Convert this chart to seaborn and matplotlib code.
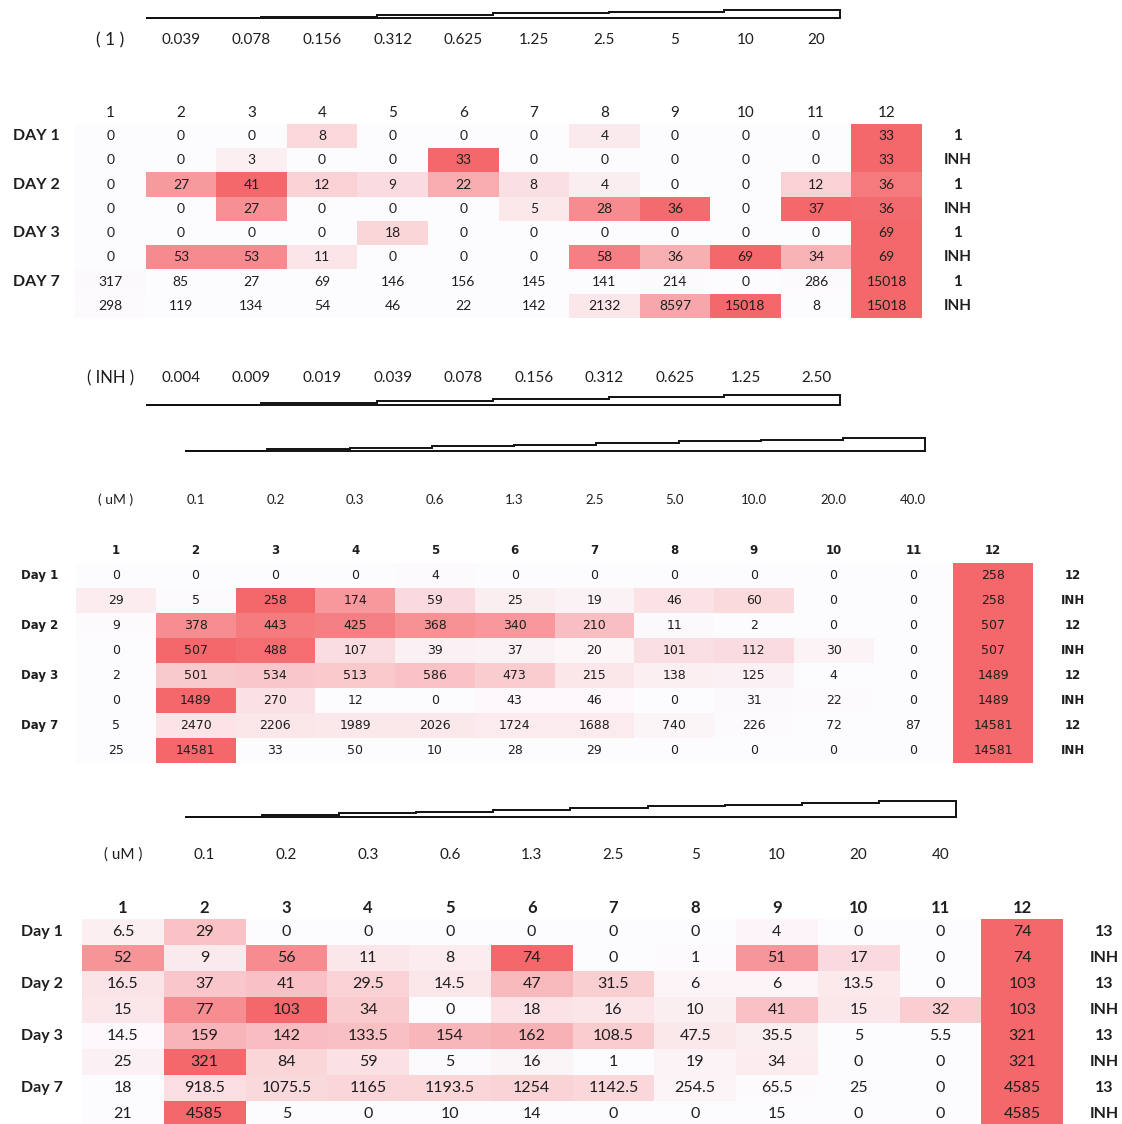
import numpy as np
import seaborn as sns
import matplotlib
matplotlib.use("Agg")
import matplotlib.pyplot as plt
from matplotlib.colors import LinearSegmentedColormap
from matplotlib.patches import Polygon

sns.set_theme(style="white")
plt.rcParams["font.family"] = ["Lato", "DejaVu Sans"]

# ---------------- data ----------------
columns = [str(i) for i in range(1, 13)]

# compound 1 / INH plate
conc_1 = ["0.039", "0.078", "0.156", "0.312", "0.625", "1.25", "2.5", "5", "10", "20"]
conc_inh = ["0.004", "0.009", "0.019", "0.039", "0.078", "0.156", "0.312", "0.625", "1.25", "2.50"]
p1_day1_1 = [0, 0, 0, 8, 0, 0, 0, 4, 0, 0, 0, 33]
p1_day1_inh = [0, 0, 3, 0, 0, 33, 0, 0, 0, 0, 0, 33]
p1_day2_1 = [0, 27, 41, 12, 9, 22, 8, 4, 0, 0, 12, 36]
p1_day2_inh = [0, 0, 27, 0, 0, 0, 5, 28, 36, 0, 37, 36]
p1_day3_1 = [0, 0, 0, 0, 18, 0, 0, 0, 0, 0, 0, 69]
p1_day3_inh = [0, 53, 53, 11, 0, 0, 0, 58, 36, 69, 34, 69]
p1_day7_1 = [317, 85, 27, 69, 146, 156, 145, 141, 214, 0, 286, 15018]
p1_day7_inh = [298, 119, 134, 54, 46, 22, 142, 2132, 8597, 15018, 8, 15018]
p1_left = ["DAY 1", "", "DAY 2", "", "DAY 3", "", "DAY 7", ""]
p1_right = ["1", "INH", "1", "INH", "1", "INH", "1", "INH"]

# compound 12 / INH plate
conc_12 = ["0.1", "0.2", "0.3", "0.6", "1.3", "2.5", "5.0", "10.0", "20.0", "40.0"]
p2_day1_12 = [0, 0, 0, 0, 4, 0, 0, 0, 0, 0, 0, 258]
p2_day1_inh = [29, 5, 258, 174, 59, 25, 19, 46, 60, 0, 0, 258]
p2_day2_12 = [9, 378, 443, 425, 368, 340, 210, 11, 2, 0, 0, 507]
p2_day2_inh = [0, 507, 488, 107, 39, 37, 20, 101, 112, 30, 0, 507]
p2_day3_12 = [2, 501, 534, 513, 586, 473, 215, 138, 125, 4, 0, 1489]
p2_day3_inh = [0, 1489, 270, 12, 0, 43, 46, 0, 31, 22, 0, 1489]
p2_day7_12 = [5, 2470, 2206, 1989, 2026, 1724, 1688, 740, 226, 72, 87, 14581]
p2_day7_inh = [25, 14581, 33, 50, 10, 28, 29, 0, 0, 0, 0, 14581]
p2_left = ["Day 1", "", "Day 2", "", "Day 3", "", "Day 7", ""]
p2_right = ["12", "INH", "12", "INH", "12", "INH", "12", "INH"]

# compound 13 / INH plate
conc_13 = ["0.1", "0.2", "0.3", "0.6", "1.3", "2.5", "5", "10", "20", "40"]
p3_day1_13 = [6.5, 29, 0, 0, 0, 0, 0, 0, 4, 0, 0, 74]
p3_day1_inh = [52, 9, 56, 11, 8, 74, 0, 1, 51, 17, 0, 74]
p3_day2_13 = [16.5, 37, 41, 29.5, 14.5, 47, 31.5, 6, 6, 13.5, 0, 103]
p3_day2_inh = [15, 77, 103, 34, 0, 18, 16, 10, 41, 15, 32, 103]
p3_day3_13 = [14.5, 159, 142, 133.5, 154, 162, 108.5, 47.5, 35.5, 5, 5.5, 321]
p3_day3_inh = [25, 321, 84, 59, 5, 16, 1, 19, 34, 0, 0, 321]
p3_day7_13 = [18, 918.5, 1075.5, 1165, 1193.5, 1254, 1142.5, 254.5, 65.5, 25, 0, 4585]
p3_day7_inh = [21, 4585, 5, 0, 10, 14, 0, 0, 15, 0, 0, 4585]
p3_left = ["Day 1", "", "Day 2", "", "Day 3", "", "Day 7", ""]
p3_right = ["13", "INH", "13", "INH", "13", "INH", "13", "INH"]

# ---------------- drawing ----------------
W, H = 1122, 1124
fig = plt.figure(figsize=(W / 100, H / 100), dpi=100)
fig.patch.set_facecolor("white")

cmap = LinearSegmentedColormap.from_list("white_red", ["#FCFCFF", "#F4686C"])
TXT = "#1e1e1e"


def px_axes(x0, y0, x1, y1):
    return fig.add_axes([x0 / W, 1 - y1 / H, (x1 - x0) / W, (y1 - y0) / H])


def fmt_value(v):
    return str(int(v)) if float(v).is_integer() else str(v)


def plate(ax, rows, left, right, fam, s_annot, s_head, s_left, s_right,
          pad_head, pad_left, head_bold=False):
    vals = np.array(rows, dtype=float)
    lo = vals.min(axis=1, keepdims=True)
    hi = vals.max(axis=1, keepdims=True)
    shade = (vals - lo) / (hi - lo)  # colour scale per row
    labels = np.array([[fmt_value(v) for v in r] for r in rows])
    sns.heatmap(shade, ax=ax, cmap=cmap, vmin=0, vmax=1, cbar=False,
                annot=labels, fmt="", linewidths=0,
                annot_kws=dict(color=TXT, fontsize=s_annot, family=fam),
                xticklabels=columns, yticklabels=left)
    ax.xaxis.tick_top()
    ax.tick_params(axis="x", length=0, pad=pad_head)
    ax.tick_params(axis="y", length=0, pad=pad_left)
    for t in ax.get_xticklabels():
        t.set(fontsize=s_head, family=fam, color=TXT, rotation=0,
              fontweight="bold" if head_bold else "normal")
    for t in ax.get_yticklabels():
        t.set(fontsize=s_left, family=fam, color=TXT, rotation=0,
              fontweight="bold")
    for i, s in enumerate(right):
        ax.text(12.5, i + 0.5, s, ha="center", va="center", fontsize=s_right,
                family=fam, fontweight="bold", color=TXT, clip_on=False)


def wedge(ax, x0, x1, yb, h, n):
    edges = np.linspace(x0, x1, n + 1)
    pts = [(x0, yb), (x1, yb)]
    for i in range(n - 1, -1, -1):
        y = yb - h * i / (n - 1)
        pts += [(edges[i + 1], y), (edges[i], y)]
    ax.add_patch(Polygon(pts, closed=True, facecolor="white", edgecolor="#111111",
                         lw=1.4, clip_on=False, joinstyle="miter"))


def conc_row(ax, tag, labels, y, fam, size, tag_size):
    ax.text(0.5, y, tag, ha="center", va="center", fontsize=tag_size,
            family=fam, color=TXT, clip_on=False)
    for j, s in enumerate(labels):
        ax.text(j + 1.5, y, s, ha="center", va="center", fontsize=size,
                family=fam, color=TXT, clip_on=False)


# plate 1
ax1 = px_axes(75, 124, 922, 318)
plate(ax1, [p1_day1_1, p1_day1_inh, p1_day2_1, p1_day2_inh,
            p1_day3_1, p1_day3_inh, p1_day7_1, p1_day7_inh],
      p1_left, p1_right, "Lato", 10, 11, 11.5, 11, 3, 11)
wedge(ax1, 1.0, 10.84, -4.36, 0.33, 6)
conc_row(ax1, "( 1 )", conc_1, -3.46, "Lato", 11, 12.5)
conc_row(ax1, "( INH )", conc_inh, 10.49, "Lato", 11, 12)
wedge(ax1, 1.0, 10.84, 11.6, 0.41, 6)

# plate 2
ax2 = px_axes(76, 563, 1033, 763)
plate(ax2, [p2_day1_12, p2_day1_inh, p2_day2_12, p2_day2_inh,
            p2_day3_12, p2_day3_inh, p2_day7_12, p2_day7_inh],
      p2_left, p2_right, "DejaVu Sans", 9, 8.5, 8.5, 8.5, 4.5, 13,
      head_bold=True)
wedge(ax2, 1.37, 10.65, -4.48, 0.52, 9)
conc_row(ax2, "( uM )", conc_12, -2.52, "Lato", 9.5, 10)

# plate 3
ax3 = px_axes(82, 919, 1063, 1127)
plate(ax3, [p3_day1_13, p3_day1_inh, p3_day2_13, p3_day2_inh,
            p3_day3_13, p3_day3_inh, p3_day7_13, p3_day7_inh],
      p3_left, p3_right, "Lato", 11.5, 12, 11.5, 11.5, 2.5, 14,
      head_bold=True)
wedge(ax3, 1.26, 10.69, -3.92, 0.62, 10)
conc_row(ax3, "( uM )", conc_13, -2.46, "Lato", 11, 11)

fig.savefig("out.png", dpi=100, facecolor="white")
